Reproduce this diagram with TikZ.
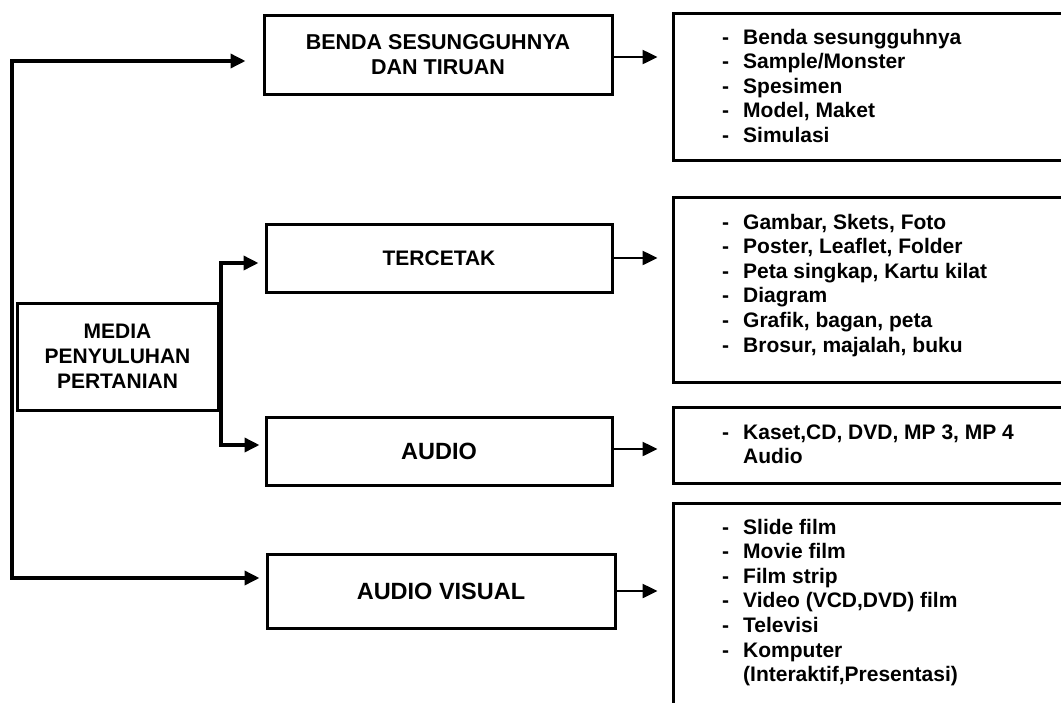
\documentclass[tikz,border=0pt]{standalone}
\usepackage{fontspec}
\setmainfont{Liberation Sans}
\usetikzlibrary{arrows.meta,calc}
\begin{document}
\begin{tikzpicture}[x=1pt,y=-1pt,
  box/.style={draw, line width=3pt, inner sep=0pt, align=center},
  listbox/.style={draw, line width=3pt, inner sep=0pt},
  conn/.style={line width=3.5pt, line cap=rect},
  arr/.style={line width=3.5pt, -{Triangle[length=15pt,width=14pt]}},
  arrr/.style={line width=2.5pt, -{Triangle[length=15pt,width=14pt]}, shorten >=14pt},
  listtxt/.style={anchor=base west, inner sep=0pt, font=\fontsize{21}{24.6}\selectfont\bfseries}
]
\useasboundingbox (0,0) rectangle (1061,702);

% main category boxes
\node[box, minimum width=348pt, minimum height=79pt, font=\fontsize{21.5}{25}\selectfont\bfseries] (benda) at (438,54.5) {BENDA SESUNGGUHNYA\\DAN TIRUAN};
\node[box, minimum width=346pt, minimum height=68pt, font=\fontsize{21}{25}\selectfont\bfseries] (tercetak) at (439,258) {TERCETAK};
\node[box, minimum width=346pt, minimum height=68pt, font=\fontsize{23.5}{25}\selectfont\bfseries] (audio) at (439,451) {AUDIO};
\node[box, minimum width=348pt, minimum height=74pt, font=\fontsize{23.5}{25}\selectfont\bfseries] (av) at (441,591) {AUDIO VISUAL};
\node[box, minimum width=201pt, minimum height=107pt, font=\fontsize{21}{25}\selectfont\bfseries] (media) at (117.5,356.5) {MEDIA\\PENYULUHAN\\PERTANIAN};

% right list boxes (extend past the right edge)
\node[listbox, minimum width=407pt, minimum height=147pt] (r1) at (876.5,86.5) {};
\node[listbox, minimum width=407pt, minimum height=185pt] (r2) at (876.5,289.5) {};
\node[listbox, minimum width=407pt, minimum height=76pt] (r3) at (876.5,445) {};
\node[listbox, minimum width=407pt, minimum height=217pt] (r4) at (876.5,611.5) {};

% list texts
\node[listtxt] (t1) at (722,44) {\begin{tabular}[t]{@{}l@{\hspace{14pt}}l@{}}
- & Benda sesungguhnya\\
- & Sample/Monster\\
- & Spesimen\\
- & Model, Maket\\
- & Simulasi
\end{tabular}};
\node[listtxt] (t2) at (722,229) {\begin{tabular}[t]{@{}l@{\hspace{14pt}}l@{}}
- & Gambar, Skets, Foto\\
- & Poster, Leaflet, Folder\\
- & Peta singkap, Kartu kilat\\
- & Diagram\\
- & Grafik, bagan, peta\\
- & Brosur, majalah, buku
\end{tabular}};
\node[listtxt] (t3) at (722,439) {\begin{tabular}[t]{@{}l@{\hspace{14pt}}l@{}}
- & Kaset,CD, DVD, MP 3, MP 4\\
  & Audio
\end{tabular}};
\node[listtxt] (t4) at (722,534) {\begin{tabular}[t]{@{}l@{\hspace{14pt}}l@{}}
- & Slide film\\
- & Movie film\\
- & Film strip\\
- & Video (VCD,DVD) film\\
- & Televisi\\
- & Komputer\\
  & (Interaktif,Presentasi)
\end{tabular}};

% left spine
\coordinate (lt) at (12,61);
\coordinate (lb) at (12,578);
\draw[conn] (lt) -- (lb);
\draw[arr, shorten >=17pt] (lt) -- (lt -| benda.west);
\draw[arr, shorten >=6pt] (lb) -- (lb -| av.west);

% branch from media
\coordinate (bt) at (221,263);
\coordinate (bb) at (221,445);
\draw[conn] (bt) -- (bb);
\draw[arr, shorten >=6pt] (bt) -- (bt -| tercetak.west);
\draw[arr, shorten >=5pt] (bb) -- (bb -| audio.west);

% right arrows
\draw[arrr] ($(benda.east)+(0,2.5)$) -- ($(benda.east -| r1.west)+(0,2.5)$);
\draw[arrr] (tercetak.east) -- (tercetak.east -| r2.west);
\draw[arrr] ($(audio.east)+(0,-2)$) -- ($(audio.east -| r3.west)+(0,-2)$);
\draw[arrr] (av.east) -- (av.east -| r4.west);
\end{tikzpicture}
\end{document}
